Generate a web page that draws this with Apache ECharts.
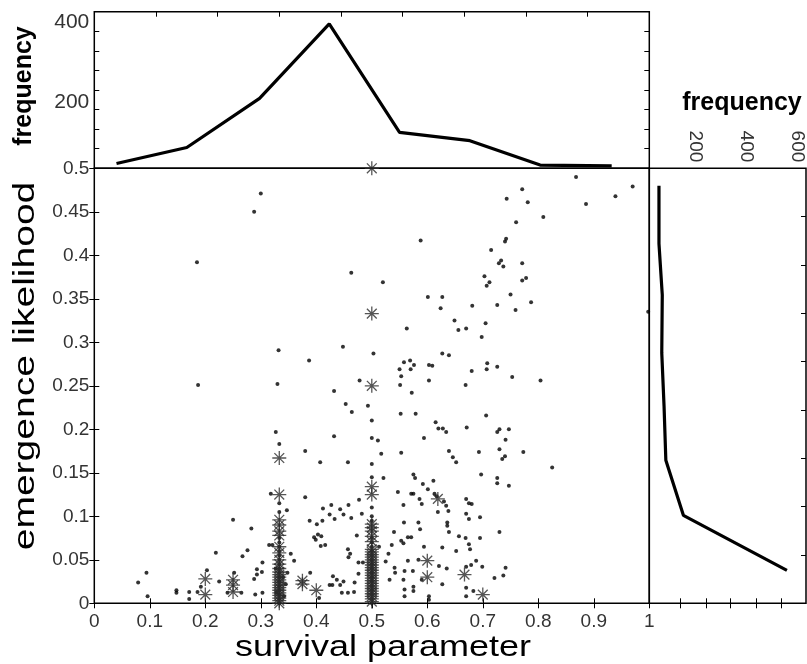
<!DOCTYPE html>
<html><head><meta charset="utf-8">
<script src="https://cdn.jsdelivr.net/npm/echarts@6/dist/echarts.min.js"></script>
<style>html,body{margin:0;padding:0;background:#fff}#c{width:807px;height:664px}</style>
</head><body><div id="c"></div>
<script>
// ---- marginal histogram (top): survival parameter bin centres (top axis units) and counts
const topBinX = [0.036, 0.150, 0.268, 0.381, 0.495, 0.609, 0.723, 0.839];
const topFreq = [48, 88, 211, 397, 126, 105, 44, 42];
// ---- marginal histogram (right): emergence likelihood bin centres (right axis units) and counts
const rightBinY = [0.432, 0.372, 0.319, 0.259, 0.204, 0.148, 0.091, 0.034];
const rightFreq = [58, 58, 71, 69, 78, 85, 154, 561];
// ---- tick labels
const topFreqLabels = [200, 400];
const rightFreqLabels = [200, 400, 600];
// ---- scatter: single observations (dots)
const dotsUpper = [
 [0.300,0.471],[0.288,0.450],[0.185,0.392],[0.463,0.380],[0.332,0.291],[0.387,0.279],[0.448,0.295],[0.503,0.287],
 [0.187,0.251],[0.330,0.252],[0.478,0.256],[0.432,0.244],[0.453,0.229],[0.493,0.227],
 [0.868,0.490],[0.970,0.479],[0.771,0.476],[0.743,0.465],[0.939,0.468],[0.781,0.461],[0.886,0.459],[0.809,0.444],
 [0.760,0.438],[0.588,0.417],[0.742,0.419],[0.740,0.416],[0.715,0.406],[0.733,0.394],[0.729,0.391],[0.737,0.387],
 [0.771,0.391],[0.520,0.369],[0.703,0.376],[0.712,0.369],[0.707,0.365],[0.771,0.371],[0.778,0.374],[0.601,0.352],
 [0.627,0.352],[0.624,0.339],[0.681,0.342],[0.726,0.343],[0.750,0.355],[0.759,0.337],[0.787,0.346],[0.649,0.325],
 [0.656,0.314],[0.670,0.316],[0.705,0.322],[0.698,0.306],[0.563,0.316],[0.627,0.287],[0.639,0.285],[0.558,0.277],
 [0.569,0.279],[0.576,0.274],[0.550,0.269],[0.570,0.269],[0.553,0.261],[0.603,0.274],[0.609,0.273],[0.708,0.276],
 [0.707,0.269],[0.680,0.267],[0.726,0.272],[0.753,0.260],[0.804,0.256],[0.603,0.256],[0.551,0.251],[0.669,0.251],
 [0.572,0.242],[0.998,0.335]
];
const dotsLower = [
 [0.464,0.220],[0.327,0.197],[0.380,0.175],[0.432,0.192],[0.407,0.162],[0.457,0.162],[0.511,0.187],
 [0.318,0.126],[0.380,0.122],[0.477,0.119],[0.458,0.113],[0.443,0.108],[0.427,0.113],[0.412,0.109],[0.424,0.102],
 [0.449,0.102],[0.411,0.095],[0.433,0.097],[0.482,0.103],[0.463,0.098],[0.250,0.096],[0.283,0.086],[0.347,0.107],
 [0.388,0.095],[0.401,0.091],[0.403,0.079],[0.396,0.076],[0.409,0.077],[0.399,0.073],[0.416,0.067],[0.408,0.066],
 [0.315,0.067],[0.321,0.067],[0.354,0.057],[0.360,0.049],[0.219,0.058],[0.267,0.054],[0.276,0.061],[0.303,0.047],
 [0.293,0.039],[0.293,0.033],[0.302,0.036],[0.288,0.028],[0.303,0.012],[0.290,0.010],[0.389,0.035],[0.405,0.006],
 [0.203,0.038],[0.192,0.019],[0.186,0.013],[0.225,0.025],[0.252,0.035],[0.240,0.012],[0.265,0.012],[0.171,0.013],
 [0.171,0.005],[0.148,0.015],[0.148,0.012],[0.079,0.024],[0.094,0.035],[0.096,0.008],[0.430,0.031],[0.437,0.027],
 [0.429,0.021],[0.443,0.021],[0.449,0.025],[0.469,0.024],[0.476,0.034],[0.457,0.012],[0.446,0.012],[0.468,0.013],
 [0.476,0.047],[0.484,0.047],[0.458,0.053],[0.461,0.057],[0.457,0.062],[0.473,0.078],[0.424,0.021],[0.513,0.065],
 [0.552,0.218],[0.579,0.218],[0.706,0.216],[0.615,0.208],[0.620,0.201],[0.628,0.201],[0.634,0.197],[0.671,0.202],
 [0.726,0.197],[0.730,0.200],[0.747,0.200],[0.741,0.188],[0.594,0.190],[0.553,0.173],[0.517,0.172],[0.639,0.175],
 [0.646,0.168],[0.652,0.162],[0.693,0.174],[0.730,0.177],[0.773,0.174],[0.735,0.166],[0.740,0.169],[0.825,0.156],
 [0.697,0.148],[0.575,0.148],[0.578,0.144],[0.611,0.141],[0.592,0.137],[0.601,0.131],[0.726,0.144],[0.726,0.138],
 [0.747,0.135],[0.521,0.144],[0.547,0.128],[0.571,0.126],[0.575,0.126],[0.557,0.113],[0.586,0.120],[0.590,0.114],
 [0.613,0.126],[0.617,0.123],[0.630,0.117],[0.634,0.112],[0.638,0.106],[0.619,0.105],[0.670,0.120],[0.675,0.115],
 [0.680,0.114],[0.670,0.103],[0.675,0.097],[0.695,0.099],[0.558,0.093],[0.584,0.093],[0.587,0.085],[0.636,0.093],
 [0.636,0.089],[0.639,0.082],[0.540,0.082],[0.565,0.076],[0.571,0.076],[0.553,0.072],[0.557,0.069],[0.536,0.067],
 [0.594,0.065],[0.627,0.064],[0.657,0.077],[0.669,0.075],[0.675,0.068],[0.677,0.062],[0.695,0.075],[0.730,0.082],
 [0.652,0.060],[0.530,0.057],[0.565,0.049],[0.584,0.050],[0.621,0.043],[0.635,0.040],[0.541,0.041],[0.525,0.048],
 [0.542,0.035],[0.532,0.027],[0.559,0.037],[0.574,0.037],[0.557,0.027],[0.590,0.027],[0.627,0.022],[0.559,0.016],
 [0.559,0.008],[0.575,0.019],[0.575,0.014],[0.603,0.008],[0.603,0.004],[0.670,0.042],[0.670,0.018],[0.670,0.008],
 [0.679,0.044],[0.688,0.049],[0.699,0.042],[0.683,0.014],[0.721,0.029],[0.737,0.032],[0.741,0.041],
 [0.327,0.040],[0.340,0.030],[0.345,0.022],[0.328,0.012],[0.342,0.008],[0.348,0.035]
];
// dense columns of dots at 1/3 and 1/2
const col3Dots = [0.183,0.115,0.105,0.075,0.070,0.065,0.060,0.055,0.050,0.045,0.040,0.035,0.030,0.025,0.020,0.015,0.010,0.005,0.000];
const col5Dots = [0.210,0.190,0.160,0.145,0.110,0.100,0.095,0.075,0.070,0.065,0.060,0.055,0.050,0.045,0.040,0.035,0.030,0.025,0.020,0.015,0.010,0.005,0.000];
// ---- scatter: repeated observations (asterisks)
const col5Stars = [0.5,0.333,0.25,0.134,0.125,0.091,0.087,0.083,0.077,0.071,0.062,0.059,0.056,0.053,0.050,0.047,0.044,
 0.041,0.038,0.035,0.032,0.029,0.026,0.023,0.020,0.017,0.014,0.011,0.008,0.005,0.002];
const col3Stars = [0.167,0.125,0.096,0.090,0.083,0.078,0.065,0.058,0.050,0.045,0.040,0.036,0.033,0.030,0.027,0.024,
 0.021,0.018,0.015,0.012,0.009,0.006,0.003,0.000];
const otherStars = [
 [0.2,0.028],[0.2,0.010],[0.25,0.027],[0.25,0.021],[0.25,0.013],[0.375,0.026],[0.375,0.022],[0.4,0.015],
 [0.619,0.120],[0.6,0.049],[0.6,0.030],[0.667,0.033],[0.7,0.010]
];

const dots = dotsUpper.concat(dotsLower, col3Dots.map(v => [0.3333, v]), col5Dots.map(v => [0.5, v]));
const stars = col5Stars.map(v => [0.5, v]).concat(col3Stars.map(v => [0.3333, v]), otherStars);
const topLine = topBinX.map((x, i) => [x, topFreq[i]]);
const rightLine = rightBinY.map((y, i) => [rightFreq[i], y]);

const FONT = 'Liberation Sans, Arial, sans-serif';
const tickLbl = { color: '#333', fontFamily: FONT, fontSize: 19 };
const frame = { show: true, borderColor: '#000', borderWidth: 1.5, backgroundColor: 'transparent' };
const noLine = { show: false };
const tickIn = { show: true, inside: true, length: 5, lineStyle: { color: '#000', width: 1 } };
const STAR = 'path://M10 0L10 20M0 10L20 10M3 3L17 17M3 17L17 3';

const chart = echarts.init(document.getElementById('c'), null, { renderer: 'canvas' });
chart.setOption({
  animation: false,
  backgroundColor: '#fff',
  grid: [
    Object.assign({ left: 94.3, top: 168.3, width: 555, height: 435 }, frame),
    Object.assign({ left: 94.3, top: 11.7, width: 555, height: 156.6 }, frame),
    Object.assign({ left: 649.3, top: 168.3, width: 156.7, height: 435 }, frame)
  ],
  xAxis: [
    { type: 'value', gridIndex: 0, min: 0, max: 1, interval: 0.1, position: 'bottom',
      axisLine: noLine, axisTick: tickIn, splitLine: noLine,
      axisLabel: Object.assign({ margin: 9, showMinLabel: true, showMaxLabel: true }, tickLbl) },
    { type: 'value', gridIndex: 0, min: 0, max: 1, interval: 0.1, position: 'top',
      axisLine: noLine, axisTick: tickIn, splitLine: noLine, axisLabel: { show: false } },
    { type: 'value', gridIndex: 1, min: 0, max: 0.9, interval: 0.1, position: 'top',
      axisLine: noLine, axisTick: tickIn, splitLine: noLine, axisLabel: { show: false } },
    { type: 'value', gridIndex: 2, min: 20, max: 636, position: 'top',
      axisLine: noLine, splitLine: noLine,
      axisTick: Object.assign({}, tickIn, { customValues: [141, 242, 340, 439, 537] }),
      axisLabel: Object.assign({ customValues: rightFreqLabels, rotate: -90, margin: 6 }, tickLbl) },
    { type: 'value', gridIndex: 2, min: 20, max: 636, position: 'bottom',
      axisLine: noLine, splitLine: noLine,
      axisTick: Object.assign({}, tickIn, { customValues: [141, 242, 340, 439, 537] }),
      axisLabel: { show: false } }
  ],
  yAxis: [
    { type: 'value', gridIndex: 0, min: 0, max: 0.5, interval: 0.05, position: 'left',
      axisLine: noLine, axisTick: tickIn, splitLine: noLine,
      axisLabel: Object.assign({ margin: 5 }, tickLbl) },
    { type: 'value', gridIndex: 0, min: 0, max: 0.5, interval: 0.05, position: 'right',
      axisLine: noLine, axisTick: tickIn, splitLine: noLine, axisLabel: { show: false } },
    { type: 'value', gridIndex: 1, min: 36, max: 427.5, position: 'left',
      axisLine: noLine, splitLine: noLine,
      axisTick: Object.assign({}, tickIn, { customValues: [84.9, 133.9, 182.8, 231.8, 280.7, 329.6, 378.6] }),
      axisLabel: Object.assign({ customValues: topFreqLabels, margin: 5 }, tickLbl, { fontSize: 21 }) },
    { type: 'value', gridIndex: 1, min: 36, max: 427.5, position: 'right',
      axisLine: noLine, splitLine: noLine,
      axisTick: Object.assign({}, tickIn, { customValues: [84.9, 133.9, 182.8, 231.8, 280.7, 329.6, 378.6] }),
      axisLabel: { show: false } },
    { type: 'value', gridIndex: 2, min: 0, max: 0.45, interval: 0.05, position: 'right',
      axisLine: noLine, axisTick: tickIn, splitLine: noLine, axisLabel: { show: false } }
  ],
  series: [
    { type: 'line', xAxisIndex: 2, yAxisIndex: 2, data: topLine, showSymbol: false, symbol: 'none',
      lineStyle: { color: '#000', width: 3.2 }, clip: false },
    { type: 'line', xAxisIndex: 3, yAxisIndex: 4, data: rightLine, showSymbol: false, symbol: 'none',
      lineStyle: { color: '#000', width: 3.2 }, clip: false },
    { type: 'scatter', xAxisIndex: 0, yAxisIndex: 0, data: dots, symbol: 'circle', symbolSize: 4,
      itemStyle: { color: '#000' }, clip: false },
    { type: 'scatter', xAxisIndex: 0, yAxisIndex: 0, data: stars, symbol: STAR, symbolSize: 14,
      itemStyle: { color: 'transparent', borderColor: '#2a2a2a', borderWidth: 1.3 }, clip: false }
  ],
  graphic: [
    { type: 'text', x: 26, y: 366, rotation: Math.PI / 2, scaleX: 1.3,
      style: { text: 'emergence likelihood', font: 'normal 30px ' + FONT, fill: '#000', align: 'center', verticalAlign: 'middle' } },
    { type: 'text', x: 383, y: 648, scaleX: 1.2,
      style: { text: 'survival parameter', font: 'normal 30px ' + FONT, fill: '#000', align: 'center', verticalAlign: 'middle' } },
    { type: 'text', x: 24, y: 86, rotation: Math.PI / 2,
      style: { text: 'frequency', font: 'bold 25px ' + FONT, fill: '#000', align: 'center', verticalAlign: 'middle' } },
    { type: 'text', x: 742, y: 103,
      style: { text: 'frequency', font: 'bold 25px ' + FONT, fill: '#000', align: 'center', verticalAlign: 'middle' } }
  ]
});
</script></body></html>
